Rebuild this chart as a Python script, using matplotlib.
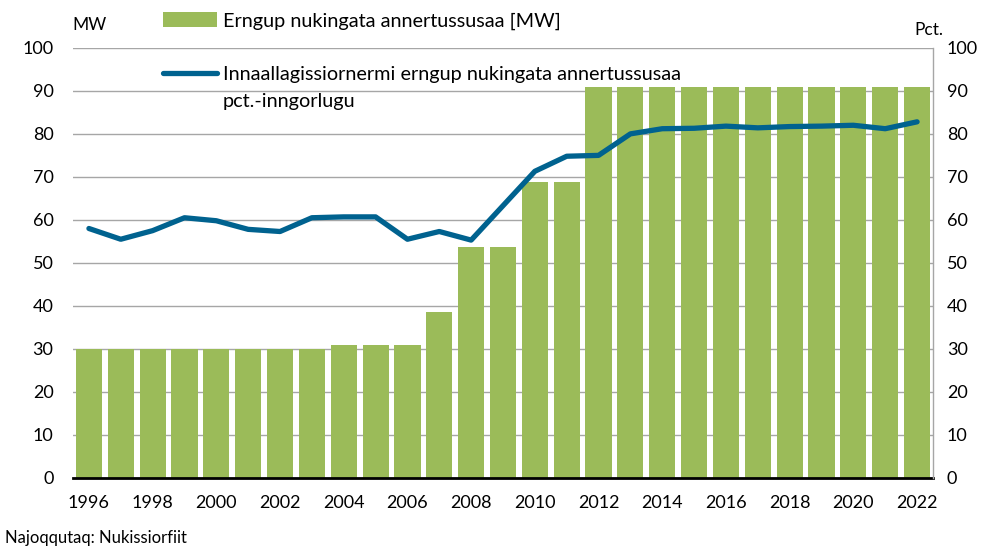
import numpy as np
import matplotlib
matplotlib.use("Agg")
import matplotlib.pyplot as plt
from matplotlib.lines import Line2D

# --- DATA ---
years = list(range(1996, 2023))
capacity_mw = [30, 30, 30, 30, 30, 30, 30, 30, 31, 31, 31, 38.7, 53.7, 53.7, 68.7, 68.7,
               91, 91, 91, 91, 91, 91, 91, 91, 91, 91, 91]
share_pct = [58.0, 55.5, 57.5, 60.5, 59.8, 57.8, 57.3, 60.5, 60.7, 60.7, 55.5, 57.3, 55.3,
             63.3, 71.3, 74.8, 75.0, 80.0, 81.2, 81.3, 81.8, 81.4, 81.7, 81.8, 82.0, 81.2, 82.8]
bar_label = "Erngup nukingata annertussusaa [MW]"
line_label = ["Innaallagissiornermi erngup nukingata annertussusaa", "pct.-inngorlugu"]

BAR_COLOR = "#9BBB59"
LINE_COLOR = "#00628F"
GRID_COLOR = "#A6A6A6"

plt.rcParams['font.family'] = ['Lato', 'DejaVu Sans']

fig = plt.figure(figsize=(10, 5.5), dpi=100)
ax = fig.add_axes([0.073, 0.131, 0.86, 0.782])
ax2 = ax.twinx()

bars = ax.bar(years, capacity_mw, width=0.82, color=BAR_COLOR, zorder=2)
line, = ax2.plot(years, share_pct, color=LINE_COLOR, lw=3.8, solid_capstyle='round',
                 solid_joinstyle='round', zorder=3)

for a in (ax, ax2):
    a.set_ylim(0, 100)
    a.set_yticks(range(0, 101, 10))
    a.set_xlim(1995.5, 2022.5)
    a.tick_params(axis='y', length=0, labelsize=13, pad=14)
    for s in ('top', 'left', 'right'):
        a.spines[s].set_visible(False)

ax.grid(axis='y', color=GRID_COLOR, lw=1, zorder=0)
ax.set_axisbelow(True)
ax.spines['bottom'].set_color('black')
ax.spines['bottom'].set_linewidth(2)
ax2.spines['bottom'].set_visible(False)
ax2.spines['right'].set_visible(True)
ax2.spines['right'].set_color(GRID_COLOR)
ax2.spines['right'].set_linewidth(1)
ax2.tick_params(axis='y', pad=10)

ax.set_xticks(years[::2])
ax.tick_params(axis='x', length=0, labelsize=13, pad=12)

fig.text(0.072, 0.955, "MW", fontsize=12.5, va='center', ha='left')
fig.text(0.943, 0.945, "Pct.", fontsize=12.5, va='center', ha='right')
fig.text(0.005, 0.022, "Najoqqutaq: Nukissiorfiit", fontsize=12, va='center', ha='left')

leg1 = fig.legend([bars], [bar_label], loc='upper left', bbox_to_anchor=(0.155, 0.992),
                  frameon=False, fontsize=14.3, handlelength=2.7, handleheight=0.75,
                  handletextpad=0.3, borderaxespad=0)
blank = Line2D([], [], visible=False)
leg2 = fig.legend([line, blank], line_label, loc='upper left', bbox_to_anchor=(0.155, 0.895),
                  frameon=False, fontsize=14.3, handlelength=2.7, handletextpad=0.3,
                  labelspacing=0.5, borderaxespad=0)

fig.savefig("out.png", dpi=100)
